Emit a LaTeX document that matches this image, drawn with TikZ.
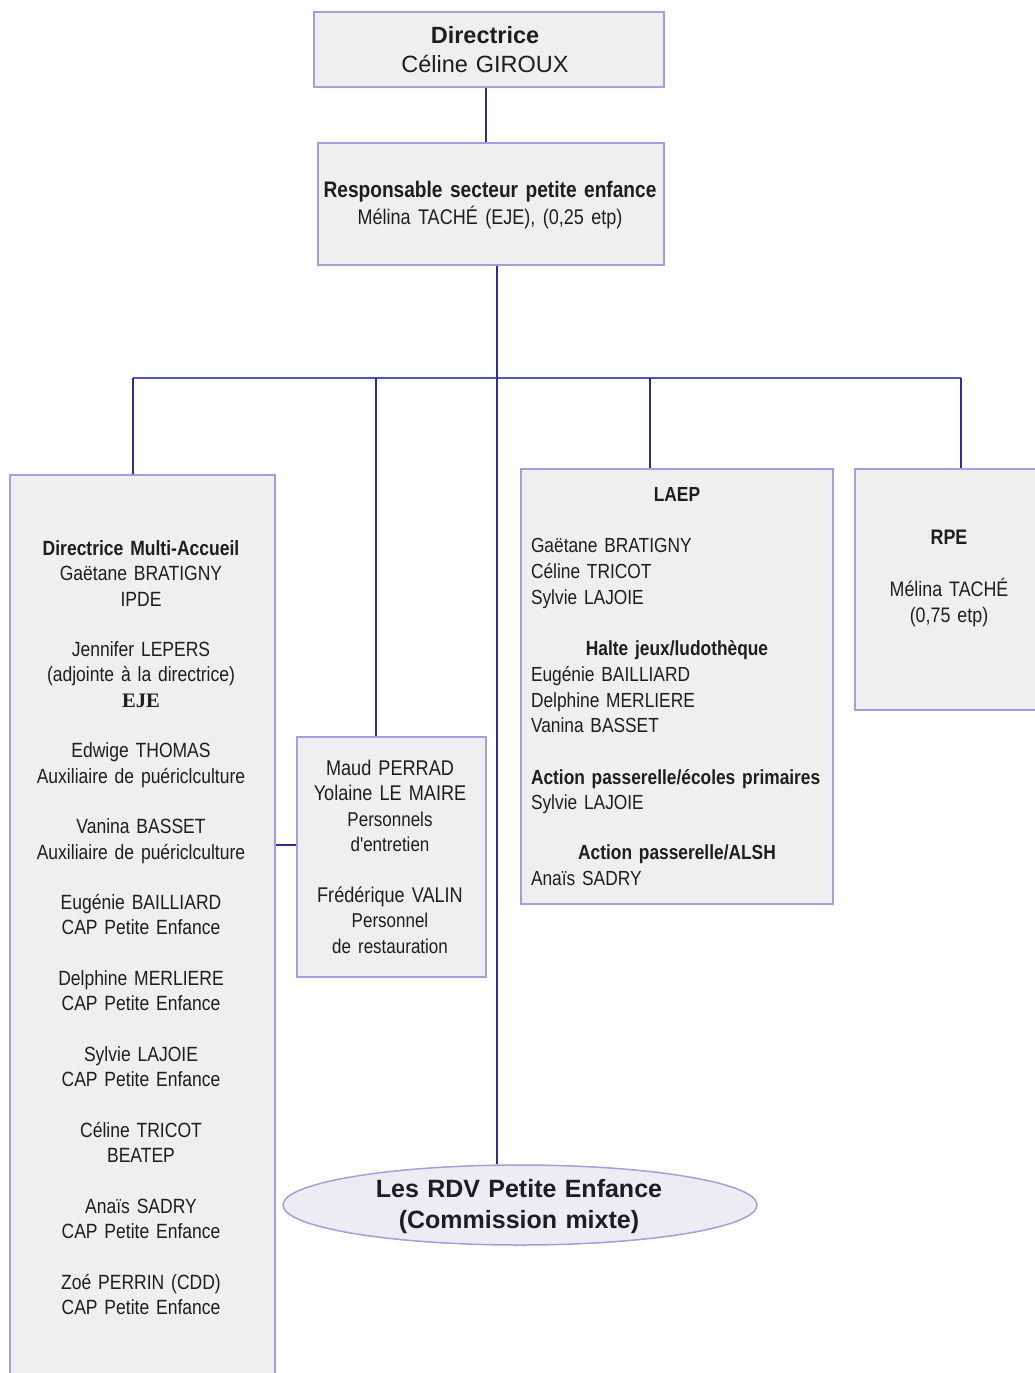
\documentclass[tikz,border=0pt]{standalone}
\usepackage{fontspec}
\setmainfont{Liberation Sans}
\newfontfamily\nrw{Liberation Sans}[FakeStretch=0.85,WordSpace=0.8]
\newfontfamily\srf{Liberation Serif}
\usetikzlibrary{shapes.geometric}
\definecolor{boxfill}{RGB}{239,239,239}
\definecolor{boxdraw}{RGB}{160,160,220}
\definecolor{conn}{RGB}{45,45,150}
\definecolor{busc}{RGB}{80,80,200}
\definecolor{ellfill}{RGB}{236,236,242}
\definecolor{ink}{RGB}{30,30,30}
\newcommand{\ctrline}[1]{\makebox[292pt][c]{#1}}
\begin{document}
\begin{tikzpicture}[x=1pt,y=-1pt,
  orgbox/.style={draw=boxdraw, fill=boxfill, line width=1.5pt, rectangle, inner sep=0pt},
  link/.style={draw=conn, line width=1.8pt},
  busline/.style={draw=busc, line width=2.6pt},
  txt/.style={anchor=base, inner sep=0pt, align=center, text=ink}
]
\useasboundingbox (0,0) rectangle (1035,1373);
\fill[white] (0,0) rectangle (1035,1373);

% boxes
\node[orgbox, minimum width=350pt, minimum height=75pt] (dir) at (489,49.5) {};
\node[txt, text width=340pt, font=\fontsize{23.5}{29}\selectfont] (dirt) at (485,43.2)
  {\textbf{Directrice}\\Céline GIROUX};

\node[orgbox, minimum width=346pt, minimum height=122pt] (resp) at (491,204) {};
\node[txt, text width=340pt, font=\nrw\fontsize{22.5}{27}\selectfont] (respt) at (490,197.9)
  {\textbf{Responsable secteur petite enfance}\\{\fontsize{21.2}{27}\selectfont Mélina TACHÉ (EJE), (0,25 etp)}};

\node[orgbox, minimum width=265pt, minimum height=930pt] (mab) at (142.5,940) {};
\node[txt, text width=260pt, font=\nrw\fontsize{20.6}{25.3}\selectfont] (mabt) at (141,555.4)
  {\textbf{Directrice Multi-Accueil}\\Gaëtane BRATIGNY\\IPDE\\[25.3pt]
   Jennifer LEPERS\\(adjointe à la directrice)\\{\srf\bfseries EJE}\\[25.3pt]
   Edwige THOMAS\\Auxiliaire de puériclculture\\[25.3pt]
   Vanina BASSET\\Auxiliaire de puériclculture\\[25.3pt]
   Eugénie BAILLIARD\\CAP Petite Enfance\\[25.3pt]
   Delphine MERLIERE\\CAP Petite Enfance\\[25.3pt]
   Sylvie LAJOIE\\CAP Petite Enfance\\[25.3pt]
   Céline TRICOT\\BEATEP\\[25.3pt]
   Anaïs SADRY\\CAP Petite Enfance\\[25.3pt]
   Zoé PERRIN (CDD)\\CAP Petite Enfance};

\node[orgbox, minimum width=189pt, minimum height=240pt] (ment) at (391.5,857) {};
\node[txt, text width=185pt, font=\nrw\fontsize{21.3}{25.4}\selectfont] (mentt) at (390,775.5)
  {Maud PERRAD\\Yolaine LE MAIRE\\{\fontsize{20}{25.4}\selectfont Personnels}\\{\fontsize{20}{25.4}\selectfont d'entretien}\\[25.4pt]
   Frédérique VALIN\\{\fontsize{20}{25.4}\selectfont Personnel}\\{\fontsize{20}{25.4}\selectfont de restauration}};

\node[orgbox, minimum width=312pt, minimum height=435pt] (laep) at (677,686.5) {};
\node[txt, align=left, text width=300pt, font=\nrw\fontsize{20.4}{25.7}\selectfont] (laept) at (681,501.4)
  {\ctrline{\textbf{LAEP}}\\[25.7pt]
   Gaëtane BRATIGNY\\Céline TRICOT\\Sylvie LAJOIE\\[25.7pt]
   \ctrline{\textbf{Halte jeux/ludothèque}}\\
   Eugénie BAILLIARD\\Delphine MERLIERE\\Vanina BASSET\\[25.7pt]
   \mbox{\textbf{Action passerelle/écoles primaires}}\\Sylvie LAJOIE\\[24pt]
   \ctrline{\textbf{Action passerelle/ALSH}}\\Anaïs SADRY};

\node[orgbox, minimum width=188pt, minimum height=241pt] (rpe) at (949,589.5) {};
\node[txt, text width=180pt, font=\nrw\fontsize{21}{26}\selectfont] (rpet) at (949,544.4)
  {\textbf{RPE}\\[26pt]Mélina TACHÉ\\(0,75 etp)};

\node[ellipse, draw=boxdraw, fill=ellfill, line width=1.5pt, minimum width=474pt, minimum height=80pt, inner sep=0pt] (rdv) at (520,1205) {};
\node[txt, text width=460pt, font=\bfseries\fontsize{25}{31}\selectfont] (rdvt) at (519,1197.8)
  {Les RDV Petite Enfance\\(Commission mixte)};

% connectors
\coordinate (tr) at (497,378);
\coordinate (b1) at (133,378);
\coordinate (b2) at (376,378);
\coordinate (b4) at (650,378);
\coordinate (b5) at (961,378);

\draw[link] ([xshift=-3pt]dir.south) -- ([xshift=-3pt]dir.south |- resp.north);
\draw[busline] (b1) -- (b5);
\draw[link] (resp.south -| tr) -- (tr |- rdv.north);
\draw[link] (b1) -- (b1 |- mab.north);
\draw[link] (b2) -- (b2 |- ment.north);
\draw[link] (b4) -- (b4 |- laep.north);
\draw[link] (b5) -- (b5 |- rpe.north);
\draw[link] ([yshift=12pt]ment.west) -- ([yshift=12pt]ment.west -| mab.east);
\end{tikzpicture}
\end{document}
